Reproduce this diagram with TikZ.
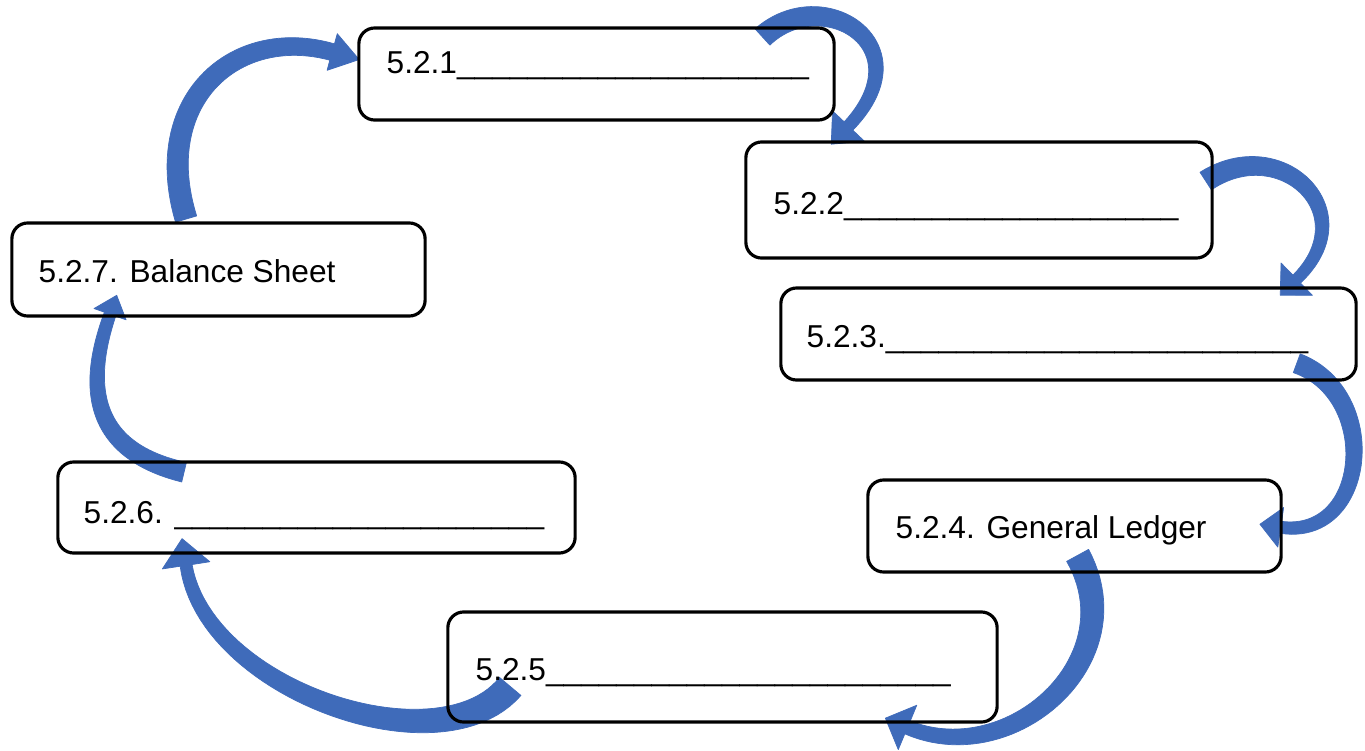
\documentclass[tikz,border=0pt]{standalone}
\usepackage{fontspec}
\setmainfont{Liberation Sans}
\definecolor{arrblue}{HTML}{3F6BBA}
\pgfkeys{/carr/.cd,
  p0/.code args={#1,#2}{\def\cAx{#1}\def\cAy{#2}},
  p1/.code args={#1,#2}{\def\cBx{#1}\def\cBy{#2}},
  p2/.code args={#1,#2}{\def\cCx{#1}\def\cCy{#2}},
  p3/.code args={#1,#2}{\def\cDx{#1}\def\cDy{#2}},
  w/.code args={#1,#2}{\def\cWa{#1}\def\cWb{#2}},
  head/.code args={#1,#2}{\def\cHw{#1}\def\cHl{#2}}}
\newcommand\carrow[1]{%
  \begingroup
  \pgfkeys{/carr/.cd,#1}%
  \pgfmathsetmacro\PAx{\cAx/100}\pgfmathsetmacro\PAy{\cAy/100}%
  \pgfmathsetmacro\PBx{\cBx/100}\pgfmathsetmacro\PBy{\cBy/100}%
  \pgfmathsetmacro\PCx{\cCx/100}\pgfmathsetmacro\PCy{\cCy/100}%
  \pgfmathsetmacro\PDx{\cDx/100}\pgfmathsetmacro\PDy{\cDy/100}%
  \pgfmathsetmacro\PWa{\cWa/100}\pgfmathsetmacro\PWb{\cWb/100}%
  \pgfmathsetmacro\PHw{\cHw/200}\pgfmathsetmacro\PHl{\cHl/100}%
  \pgfmathsetmacro\Tx{\PDx-\PCx}\pgfmathsetmacro\Ty{\PDy-\PCy}%
  \pgfmathsetmacro\Tl{veclen(\Tx,\Ty)}%
  \pgfmathsetmacro\Tx{\Tx/\Tl}\pgfmathsetmacro\Ty{\Ty/\Tl}%
  \pgfmathsetmacro\Bax{\PDx-\PHw*\Ty}\pgfmathsetmacro\Bay{\PDy+\PHw*\Tx}%
  \pgfmathsetmacro\Bbx{\PDx+\PHw*\Ty}\pgfmathsetmacro\Bby{\PDy-\PHw*\Tx}%
  \pgfmathsetmacro\Tpx{\PDx+\PHl*\Tx}\pgfmathsetmacro\Tpy{\PDy+\PHl*\Ty}%
  \begin{scope}[x=1cm,y=-1cm,declare function={
      caqx(\s)=(1-\s)*(1-\s)*(1-\s)*(\PAx)+3*(1-\s)*(1-\s)*\s*(\PBx)+3*(1-\s)*\s*\s*(\PCx)+\s*\s*\s*(\PDx);
      caqy(\s)=(1-\s)*(1-\s)*(1-\s)*(\PAy)+3*(1-\s)*(1-\s)*\s*(\PBy)+3*(1-\s)*\s*\s*(\PCy)+\s*\s*\s*(\PDy);
      caex(\s)=3*(1-\s)*(1-\s)*((\PBx)-(\PAx))+6*(1-\s)*\s*((\PCx)-(\PBx))+3*\s*\s*((\PDx)-(\PCx));
      caey(\s)=3*(1-\s)*(1-\s)*((\PBy)-(\PAy))+6*(1-\s)*\s*((\PCy)-(\PBy))+3*\s*\s*((\PDy)-(\PCy));
      cael(\s)=veclen(caex(\s),caey(\s));
      cahw(\s)=((\PWa)+((\PWb)-(\PWa))*\s)/2;
      caox(\s)=caqx(\s)-cahw(\s)*caey(\s)/cael(\s);
      caoy(\s)=caqy(\s)+cahw(\s)*caex(\s)/cael(\s);
      caix(\s)=caqx(\s)+cahw(\s)*caey(\s)/cael(\s);
      caiy(\s)=caqy(\s)-cahw(\s)*caex(\s)/cael(\s);}]
    \fill[arrowfill] plot[domain=0:1,samples=50,variable=\t] ({caox(\t)},{caoy(\t)})
      -- (\Bax,\Bay) -- (\Tpx,\Tpy) -- (\Bbx,\Bby)
      -- plot[domain=0:1,samples=50,variable=\t] ({caix(1-\t)},{caiy(1-\t)}) -- cycle;
  \end{scope}%
  \endgroup}
\tikzset{
  arrowfill/.style={fill=arrblue,draw=arrblue,line width=0.2pt,line join=round},
  box/.style={draw=black,line width=0.9pt,rounded corners=4.5pt,inner sep=0pt,fill=none},
  lbl/.style={inner sep=0pt,anchor=base west,font=\fontsize{9pt}{11pt}\selectfont}
}
\begin{document}
\begin{tikzpicture}[x=0.01cm,y=-0.01cm]
\useasboundingbox (0,0) rectangle (1365,751);
\fill[white] (0,0) rectangle (1365,751);
% curved block arrows
\carrow{p0={762,37},p1={822,-18},p2={925,45},p3={848,126},w={22,12},head={44,25}}
\carrow{p0={1205,181},p1={1280,132},p2={1365,212},p3={1296,279},w={21,11},head={45,23}}
\carrow{p0={1296,363},p1={1381,394},p2={1368,540},p3={1280,527},w={20,12},head={40,21}}
\carrow{p0={1077,555},p1={1135,660},p2={1010,770},p3={907,727},w={25,14},head={48,24}}
\carrow{p0={510,686},p1={440,770},p2={205,690},p3={186,565},w={28,12},head={48,27}}
\carrow{p0={184,472},p1={90,450},p2={85,385},p3={110,314},w={20,12},head={34,20}}
\carrow{p0={186,219},p1={150,100},p2={235,25},p3={332,52},w={22,17},head={38,28}}
% boxes
\node[box,minimum width=4.75cm,minimum height=0.92cm] (b1) at (596.5,74) {};
\node[box,minimum width=4.66cm,minimum height=1.16cm] (b2) at (979,200) {};
\node[box,minimum width=5.75cm,minimum height=0.92cm] (b3) at (1068.5,334) {};
\node[box,minimum width=4.13cm,minimum height=0.92cm] (b4) at (1074.5,526) {};
\node[box,minimum width=5.49cm,minimum height=1.10cm] (b5) at (722.5,667) {};
\node[box,minimum width=5.17cm,minimum height=0.91cm] (b6) at (316.5,507.5) {};
\node[box,minimum width=4.13cm,minimum height=0.93cm] (b7) at (218.5,269.5) {};
% labels
\node[lbl] (t1) at (386,73) {5.2.1\_\_\_\_\_\_\_\_\_\_\_\_\_\_\_\_\_\_\_\_};
\node[lbl] (t2) at (773,214) {5.2.2\_\_\_\_\_\_\_\_\_\_\_\_\_\_\_\_\_\_\_};
\node[lbl] (t3) at (806,347) {5.2.3.\_\_\_\_\_\_\_\_\_\_\_\_\_\_\_\_\_\_\_\_\_\_\_\_};
\node[lbl] (t4) at (895,538) {5.2.4. General Ledger};
\node[lbl] (t5) at (475,680) {5.2.5\_\_\_\_\_\_\_\_\_\_\_\_\_\_\_\_\_\_\_\_\_\_\_};
\node[lbl] (t6) at (83,523) {5.2.6. \_\_\_\_\_\_\_\_\_\_\_\_\_\_\_\_\_\_\_\_\_};
\node[lbl] (t7) at (38,282) {5.2.7. Balance Sheet};
\end{tikzpicture}
\end{document}
